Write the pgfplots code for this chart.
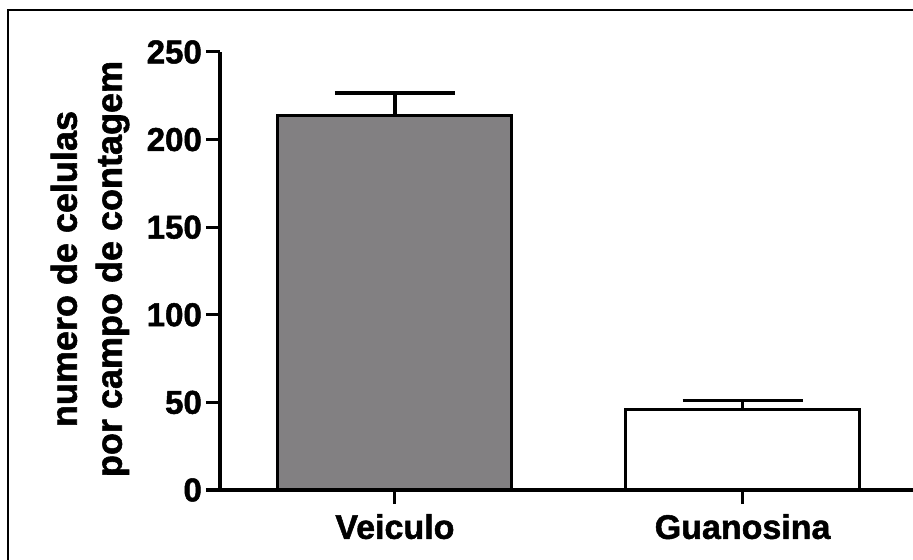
\documentclass[border=0pt]{standalone}
\usepackage{fontspec}
\setmainfont{Liberation Sans}[BoldFeatures={FakeBold=1.5}]
\usepackage{pgfplots}
\pgfplotsset{compat=1.18}
\definecolor{bargray}{RGB}{130,128,130}
\begin{document}
\begin{tikzpicture}
\path[use as bounding box] (0,0) rectangle (913bp,560bp);
\draw[line width=2.5bp] (8bp,0) -- (8bp,550bp) -- (913bp,550bp);
\begin{axis}[
  at={(220bp,70bp)}, anchor=south west,
  scale only axis, width=693bp, height=438bp,
  xmin=-0.503, xmax=1.49, ymin=0, ymax=250,
  axis x line*=bottom, axis y line*=left,
  axis line style={line width=3.5bp, black},
  xtick={0,1}, xticklabels={Veiculo,Guanosina},
  ytick={0,50,100,150,200,250},
  tick align=outside, major tick length=14bp,
  tick style={line width=3bp, black},
  /pgf/number format/assume math mode=true,
  xticklabel style={font=\fontsize{34bp}{34bp}\selectfont\bfseries, inner sep=0pt, yshift=-10bp},
  yticklabel style={font=\fontsize{33bp}{33bp}\selectfont\bfseries, inner sep=0pt, xshift=-4bp},
  ybar, bar width=234bp,
  clip=false,
]
\addplot[bar shift=0pt, fill=bargray, draw=black, line width=3bp,
  error bars/.cd, y dir=plus, y explicit,
  error bar style={line width=3.5bp, black},
  error mark options={rotate=90, mark size=60bp, line width=3.5bp, black}]
  coordinates {(0,214) +- (0,12.6)};
\addplot[bar shift=0pt, fill=white, draw=black, line width=3bp,
  error bars/.cd, y dir=plus, y explicit,
  error bar style={line width=3.5bp, black},
  error mark options={rotate=90, mark size=60bp, line width=3.5bp, black}]
  coordinates {(1,46) +- (0,5)};
\end{axis}
\node[rotate=90, align=center, font=\fontsize{36bp}{45bp}\selectfont\bfseries] at (90bp,291bp) {numero de celulas\\por campo de contagem};
\end{tikzpicture}
\end{document}
